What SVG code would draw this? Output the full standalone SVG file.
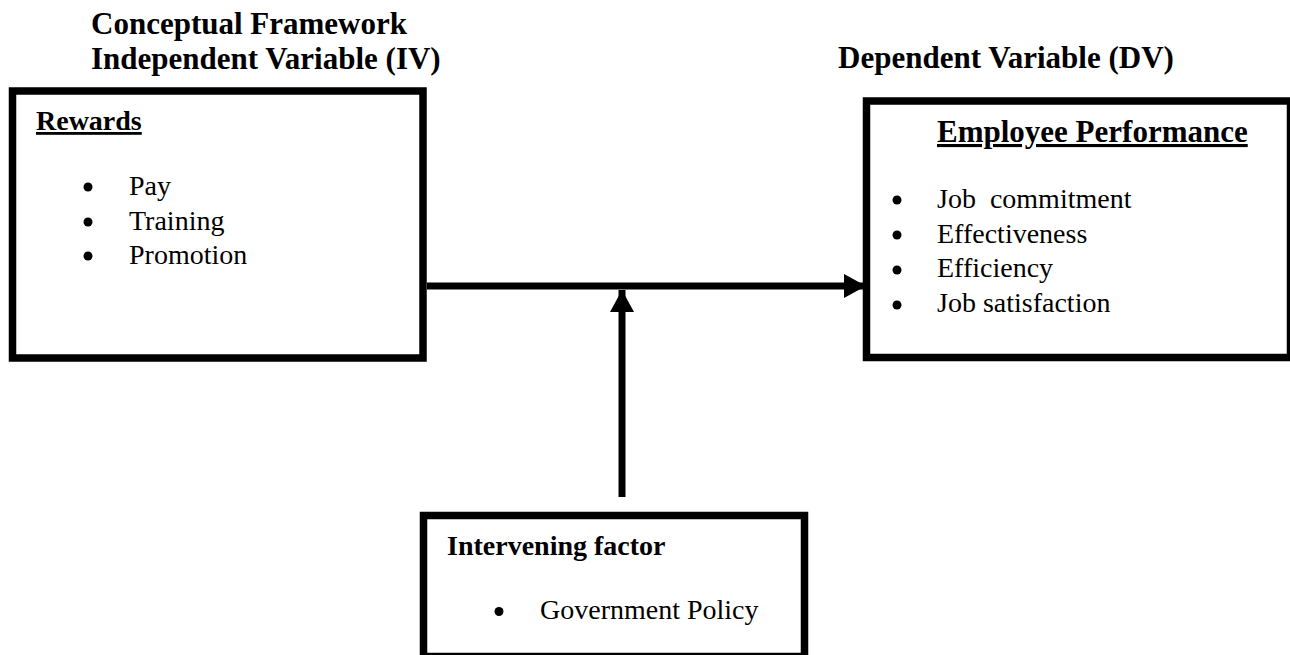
<svg xmlns="http://www.w3.org/2000/svg" width="1290" height="655" viewBox="0 0 1290 655">
<style>
.box{fill:#fff;stroke:#000;stroke-width:7.5}
.t{font-family:"Liberation Serif","Times New Roman",serif;fill:#000}
.h{font-size:31px;font-weight:bold}
.b{font-size:28px}
.bb{font-size:28px;font-weight:bold}
.u{text-decoration:underline}
.dot{fill:#000}
.conn{stroke:#000;stroke-width:7;fill:none}
</style>
<defs>
<marker id="ah" markerUnits="userSpaceOnUse" markerWidth="24" markerHeight="24" refX="22" refY="12" orient="auto">
<path d="M0,0 L22,12 L0,24 Z" fill="#000"/>
</marker>
</defs>
<rect width="1290" height="655" fill="#fff"/>
<g id="titles">
<text class="t h" x="91" y="34">Conceptual Framework</text>
<text class="t h" x="91" y="69">Independent Variable (IV)</text>
<text class="t h" x="838" y="68">Dependent Variable (DV)</text>
</g>
<g id="rewards">
<rect class="box" x="12.5" y="91" width="410.5" height="267"/>
<text class="t bb u" x="36" y="130">Rewards</text>
<circle class="dot" cx="88" cy="187" r="4.5"/>
<text class="t b" x="129" y="195">Pay</text>
<circle class="dot" cx="88" cy="222" r="4.5"/>
<text class="t b" x="129" y="230">Training</text>
<circle class="dot" cx="88" cy="256" r="4.5"/>
<text class="t b" x="129" y="264">Promotion</text>
</g>
<g id="performance">
<rect class="box" x="866.5" y="101" width="424" height="256.5"/>
<text class="t h u" x="937" y="142">Employee Performance</text>
<circle class="dot" cx="897" cy="200" r="4.5"/>
<text class="t b" x="937" y="208" xml:space="preserve">Job  commitment</text>
<circle class="dot" cx="897" cy="235" r="4.5"/>
<text class="t b" x="937" y="243">Effectiveness</text>
<circle class="dot" cx="897" cy="270" r="4.5"/>
<text class="t b" x="937" y="277">Efficiency</text>
<circle class="dot" cx="897" cy="305" r="4.5"/>
<text class="t b" x="937" y="312">Job satisfaction</text>
</g>
<g id="intervening">
<rect class="box" x="423.5" y="515.5" width="381" height="141"/>
<text class="t bb" x="447" y="555">Intervening factor</text>
<circle class="dot" cx="499" cy="611.5" r="4.5"/>
<text class="t b" x="540" y="619">Government Policy</text>
</g>
<g id="connectors">
<line class="conn" x1="427" y1="286" x2="866" y2="286" marker-end="url(#ah)"/>
<line class="conn" x1="622" y1="497" x2="622" y2="290" marker-end="url(#ah)"/>
</g>
</svg>
